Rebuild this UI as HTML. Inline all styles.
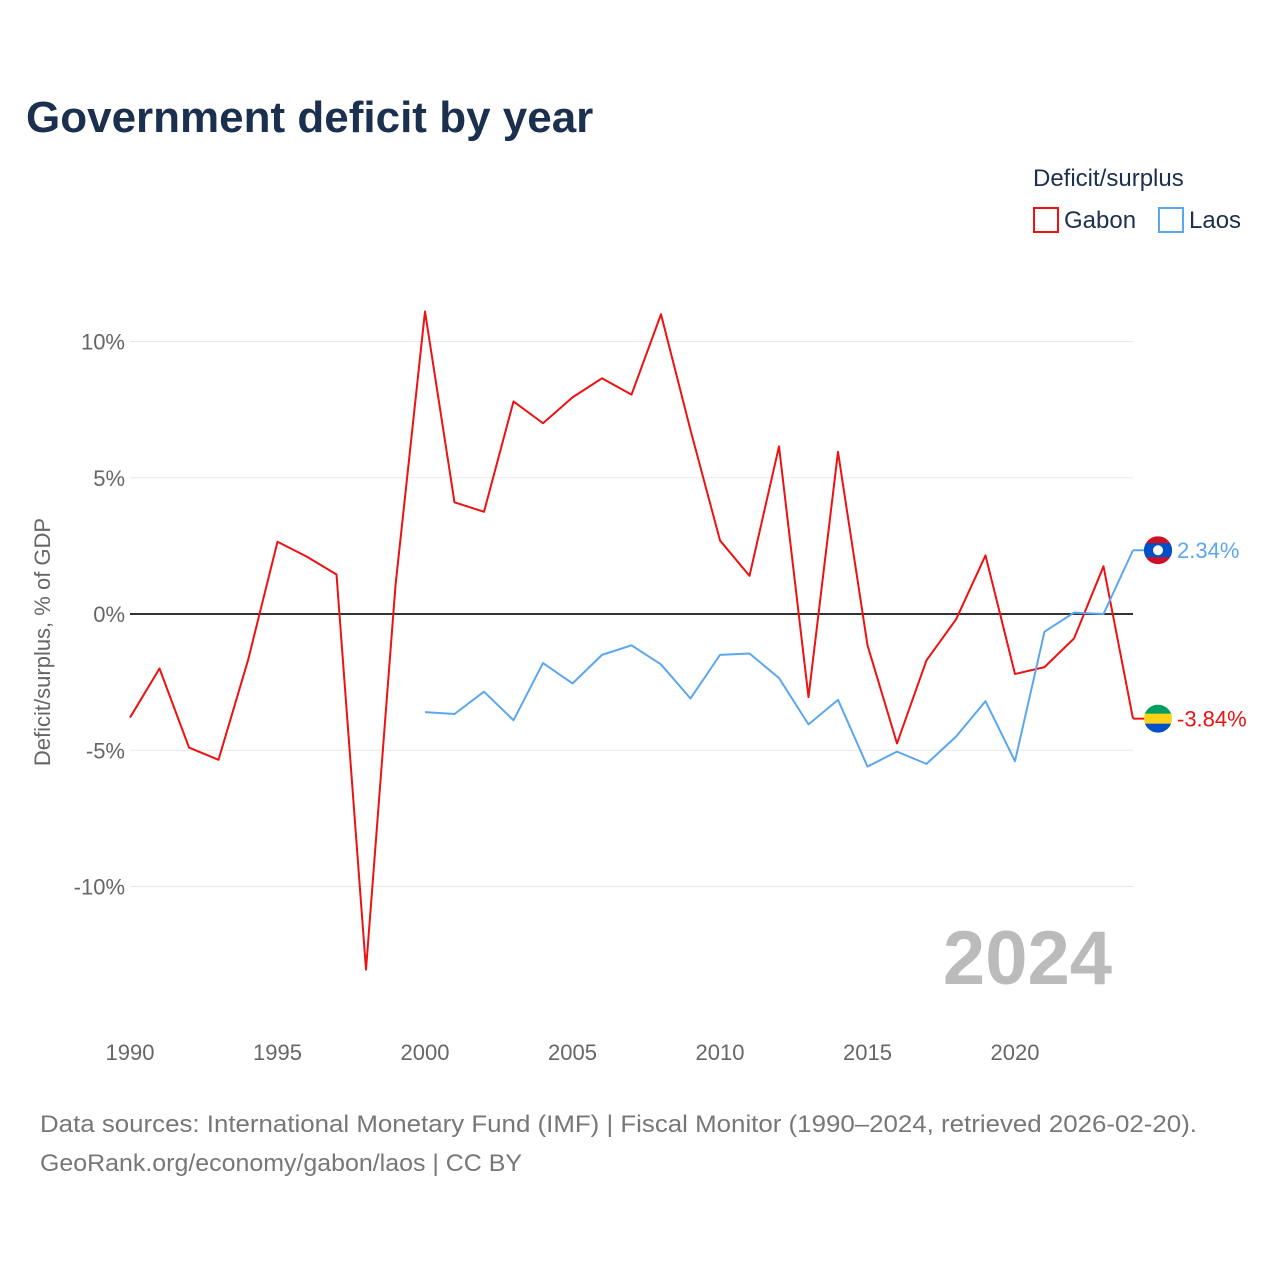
<!DOCTYPE html>
<html><head><meta charset="utf-8">
<style>
html,body{margin:0;padding:0;background:#fff;}
body{width:1280px;height:1280px;overflow:hidden;font-family:"Liberation Sans",sans-serif;}
</style></head>
<body>
<svg id="chart" width="1280" height="1280" xmlns="http://www.w3.org/2000/svg" font-family="Liberation Sans, sans-serif">
<text x="26" y="132" font-size="44" font-weight="bold" fill="#1b2f4e">Government deficit by year</text>
<text x="1033" y="186" font-size="24" fill="#1b2f4e">Deficit/surplus</text>
<g>
<rect x="1034" y="208" width="24" height="24" fill="none" stroke="#ee1111" stroke-width="2"/>
<text x="1064" y="228" font-size="24" fill="#1b2f4e">Gabon</text></g>
<g>
<rect x="1159" y="208" width="24" height="24" fill="none" stroke="#5ba7ee" stroke-width="2"/>
<text x="1189" y="228" font-size="24" fill="#1b2f4e">Laos</text></g>
<text transform="translate(50,642) rotate(-90)" text-anchor="middle" font-size="22" fill="#666">Deficit/surplus, % of GDP</text>
<text x="1112" y="984" text-anchor="end" font-size="76" font-weight="bold" fill="#bbbbbb">2024</text>
<g id="grid"></g><g id="lines"></g>
<text x="40" y="1132" font-size="24" fill="#777" textLength="1157" lengthAdjust="spacingAndGlyphs">Data sources: International Monetary Fund (IMF) | Fiscal Monitor (1990–2024, retrieved 2026-02-20).</text>
<text x="40" y="1171" font-size="24" fill="#777" textLength="482" lengthAdjust="spacingAndGlyphs">GeoRank.org/economy/gabon/laos | CC BY</text>
</svg>
<script>
const gabonYears=[1990,1991,1992,1993,1994,1995,1996,1997,1998,1999,2000,2001,2002,2003,2004,2005,2006,2007,2008,2009,2010,2011,2012,2013,2014,2015,2016,2017,2018,2019,2020,2021,2022,2023,2024];
const gabonValues=[-3.8,-2.0,-4.9,-5.35,-1.7,2.65,2.1,1.45,-13.05,1.05,11.1,4.1,3.75,7.8,7.0,7.95,8.65,8.05,11.0,6.75,2.7,1.4,6.15,-3.05,5.95,-1.15,-4.75,-1.7,-0.2,2.15,-2.2,-1.95,-0.9,1.75,-3.84];
const laosYears=[2000,2001,2002,2003,2004,2005,2006,2007,2008,2009,2010,2011,2012,2013,2014,2015,2016,2017,2018,2019,2020,2021,2022,2023,2024];
const laosValues=[-3.6,-3.67,-2.85,-3.9,-1.8,-2.55,-1.5,-1.15,-1.85,-3.1,-1.5,-1.45,-2.35,-4.05,-3.15,-5.6,-5.05,-5.5,-4.5,-3.2,-5.4,-0.65,0.05,0.0,2.34];
const xTicks=[1990,1995,2000,2005,2010,2015,2020];
const yTicks=[10,5,0,-5,-10];
const yTickLabels=["10%","5%","0%","-5%","-10%"];
const NS="http://www.w3.org/2000/svg";
const x=y=>130+(y-1990)*(1133-130)/34;
const yy=v=>614-v*27.25;
function mk(tag,attrs,parent){const e=document.createElementNS(NS,tag);for(const k in attrs)e.setAttribute(k,attrs[k]);parent.appendChild(e);return e;}
const grid=document.getElementById('grid'),lines=document.getElementById('lines');
yTicks.forEach((t,i)=>{
 const l=mk('line',{x1:130,x2:1133,y1:yy(t),y2:yy(t),stroke:t===0?'#333':'#e8e8e8','stroke-width':t===0?2:1},grid);
 
 
 const tx=mk('text',{x:125,y:yy(t)+8,'text-anchor':'end','font-size':22,fill:'#666'},grid);
 tx.textContent=yTickLabels[i];
 
 
});
xTicks.forEach(t=>{
 const tx=mk('text',{x:x(t),y:1060,'text-anchor':'middle','font-size':22,fill:'#666'},grid);
 tx.textContent=t;
 
 
});
function series(years,vals,color,name){
 const p=mk('polyline',{points:years.map((y,i)=>x(y)+','+yy(vals[i])).join(' '),fill:'none',stroke:color,'stroke-width':2,'stroke-linejoin':'round'},lines);
 
 
 const lx=x(years[years.length-1]),lv=vals[vals.length-1];
 mk('line',{x1:lx,x2:lx+25,y1:yy(lv),y2:yy(lv),stroke:color,'stroke-width':2},lines);
 return [lx+25,yy(lv),lv];
}
const g=series(gabonYears,gabonValues,'#ee1111','gabon');
const l=series(laosYears,laosValues,'#5ba7ee','laos');
const lf=mk('g',{},lines);


mk('clipPath',{id:'cl'},lf);mk('circle',{cx:l[0],cy:l[1],r:14},lf.lastChild);
mk('rect',{x:l[0]-14,y:l[1]-14,width:28,height:28,fill:'#ce1126','clip-path':'url(#cl)'},lf);
mk('rect',{x:l[0]-14,y:l[1]-7,width:28,height:14,fill:'#0050c8','clip-path':'url(#cl)'},lf);
mk('circle',{cx:l[0],cy:l[1],r:5,fill:'#fff'},lf);
const lt=mk('text',{x:l[0]+19,y:l[1]+8,'font-size':22,fill:'#5ba7ee'},lines);
lt.textContent=l[2].toFixed(2)+'%';


const gf=mk('g',{},lines);


mk('clipPath',{id:'cg'},gf);mk('circle',{cx:g[0],cy:g[1],r:14},gf.lastChild);
mk('rect',{x:g[0]-14,y:g[1]-14,width:28,height:10,fill:'#009e60','clip-path':'url(#cg)'},gf);
mk('rect',{x:g[0]-14,y:g[1]-5,width:28,height:10,fill:'#fcd116','clip-path':'url(#cg)'},gf);
mk('rect',{x:g[0]-14,y:g[1]+5,width:28,height:10,fill:'#0050c8','clip-path':'url(#cg)'},gf);
const gt=mk('text',{x:g[0]+19,y:g[1]+8,'font-size':22,fill:'#ee1111'},lines);
gt.textContent=g[2].toFixed(2)+'%';


</script>
</body></html>
